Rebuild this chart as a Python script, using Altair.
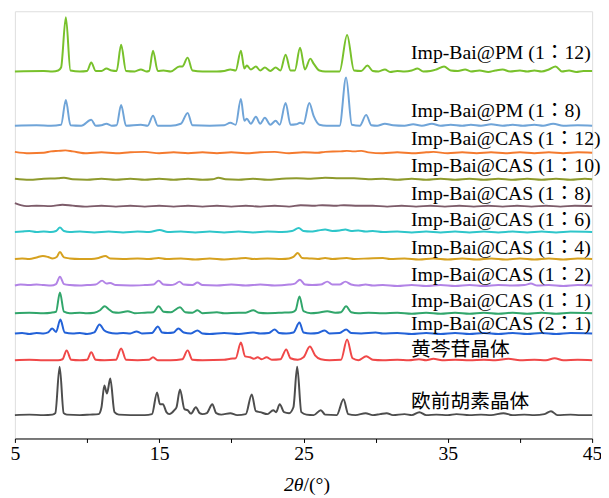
import altair as alt
import pandas as pd

# ---------------- data ----------------
SERIES = [
    "Imp-Bai@PM (1：12)", "Imp-Bai@PM (1：8)", "Imp-Bai@CAS (1：12)",
    "Imp-Bai@CAS (1：10)", "Imp-Bai@CAS (1：8)", "Imp-Bai@CAS (1：6)",
    "Imp-Bai@CAS (1：4)", "Imp-Bai@CAS (1：2)", "Imp-Bai@CAS (1：1)",
    "Imp-Bai@CAS (2：1)", "黄芩苷晶体", "欧前胡素晶体",
]
COLORS = ["#78C12B", "#6FA4D8", "#F47A2E", "#8E9A2C", "#7D5C6A", "#2EC6CA",
          "#D6A11F", "#B283E6", "#31A66B", "#2362D8", "#F04848", "#4D4D4D"]
# vertical stacking offsets (a.u.)
OFFSETS = [372, 317, 289.5, 262.7, 235.5, 209.3, 182, 155, 127, 106.5, 79.3, 23.7]
LABEL_X = 32.45
LABEL_Y = [385, 326, 297, 270, 242, 215, 187, 160, 133, 110, 84, 31]
TICKS = [5, 7.5, 10, 12.5, 15, 17.5, 20, 22.5, 25, 27.5, 30, 32.5, 35, 37.5, 40, 42.5, 45]

PM_1_12 = [(5.0,0),(7.0,0.5),(7.6,0),(8.0,1),(8.2,4),(8.53,55),(8.85,1),(9.5,0),(10.0,0.5),(10.29,9),
    (10.6,0.5),(11.0,0.5),(11.34,3),(11.7,1),(12.05,0.5),(12.36,27),(12.7,0.5),(13.3,0),(13.73,2),(14.1,0),
    (14.3,0.5),(14.57,21),(14.9,0.5),(15.3,1),(15.8,0),(16.4,5),(16.6,5),(16.97,14),(17.3,1),(18.0,0),
    (19.0,0),(19.5,0.5),(19.93,2),(20.3,1),(20.66,21),(20.9,3),(21.07,6),(21.35,2),(21.7,5),(22.0,1),
    (22.32,4),(22.7,0.5),(23.07,4),(23.4,1),(23.76,17),(24.1,1),(24.4,1),(24.76,24),(25.1,2),(25.47,13),
    (25.7,8),(26.1,1),(26.5,0),(27.5,0),(28.02,37),(28.5,1),(29.0,0.5),(29.43,6),(29.8,0.5),(30.2,0),
    (30.64,2),(31.0,-0.5),(31.5,0.5),(32.0,0),(32.5,1),(32.9,3),(33.3,0),(33.8,0.5),(34.2,2),(34.74,5),
    (35.2,1),(35.7,0.5),(36.2,2),(36.6,0),(37.2,1),(37.8,-0.5),(38.3,1),(38.8,2),(39.3,0),(40.0,1),
    (40.5,0),(41.0,1),(41.5,0),(42.0,2),(42.47,5),(42.9,0),(43.4,1),(43.9,-0.5),(44.4,0.5),(45.0,0.5)]

PM_1_8 = [(5.0,0),(6.5,0.5),(7.5,0),(8.2,1),(8.53,26),(8.85,0.5),(9.6,0),(10.29,6),(10.6,0),(11.0,0.5),
    (11.34,2),(11.7,0),(12.05,0.5),(12.36,21),(12.7,0),(13.73,1),(14.2,0),(14.57,10),(14.9,0),(15.8,0),
    (16.5,2),(16.97,13),(17.3,0.5),(18.5,0),(19.5,0.5),(19.93,3),(20.3,1),(20.66,27),(20.9,5),(21.07,7),
    (21.35,2),(21.7,9),(22.0,2),(22.32,8),(22.7,1),(23.07,5),(23.35,1),(23.76,23),(24.1,1),(24.5,1.5),
    (24.76,3),(25.0,2),(25.4,23),(25.7,10),(26.1,1),(26.6,0),(27.5,0),(27.95,49),(28.35,1),(28.9,0),
    (29.34,11),(29.7,0.5),(30.1,0),(30.64,2),(31.2,0.5),(32.0,0),(32.6,1.5),(33.2,0),(33.9,2),(34.5,0),
    (35.2,1),(36.0,0),(36.6,1),(37.3,0),(38.0,1.5),(38.8,0),(39.5,1),(40.2,0),(41.0,1),(41.6,0),
    (42.3,2),(43.0,0),(44.0,0.5),(45.0,0)]

CAS_1_12 = [(5.0,1),(6.0,-0.5),(7.0,0),(7.5,1.5),(8.0,2),(8.5,2.5),(9.0,1.5),(10.0,-0.5),(11.0,0.5),
    (12.0,-0.5),(13.0,0.5),(14.0,1),(15.0,-0.5),(16.0,0.5),(17.0,-0.5),(18.0,0.5),(19.0,-0.5),(20.0,0.5),
    (21.0,-0.5),(22.0,0.5),(23.0,1),(24.0,-0.5),(25.0,0.5),(26.0,0),(26.5,1),(27.5,1.5),(28.0,2),
    (28.5,1.5),(29.0,2),(29.5,0.5),(30.5,-0.5),(31.5,0.5),(32.5,-0.5),(33.5,0.5),(34.0,1),(35.0,-0.5),
    (36.0,0.5),(37.0,-0.5),(38.0,0.5),(39.0,-0.5),(40.0,0.5),(41.0,-0.5),(42.0,0.5),(43.0,-0.5),
    (44.0,0.5),(45.0,0)]

CAS_1_10 = [(5.0,0.5),(6.0,-0.5),(7.0,0.5),(8.0,1),(8.4,1.5),(9.0,0),(10.0,-0.5),(11.0,0.5),(12.0,-0.5),
    (13.0,0.5),(14.0,-0.5),(15.0,0.5),(16.0,-0.5),(17.0,0.5),(18.0,-0.5),(18.7,0),(19.1,1.5),(19.6,0),
    (20.5,-0.5),(21.5,0.5),(22.5,-0.5),(23.5,0.5),(24.5,1),(25.5,0.5),(26.5,1.5),(27.5,1),(28.5,1),
    (29.5,0),(30.5,0.5),(31.5,-0.5),(32.5,0.5),(33.5,-0.5),(34.5,0.5),(35.5,-0.5),(36.5,0.5),(37.5,-0.5),
    (38.5,0.5),(39.5,-0.5),(40.5,0.5),(41.5,-0.5),(42.5,0.5),(43.5,-0.5),(44.5,0.5),(45.0,0)]

CAS_1_8 = [(5.0,3),(5.4,1),(5.8,0),(6.5,0.5),(7.5,0),(8.3,1.5),(9.0,0.5),(10.0,-0.5),(11.0,0.5),
    (12.0,-0.5),(13.0,0.5),(14.0,-0.5),(15.0,0.5),(16.0,-0.5),(17.0,0.5),(18.0,-0.5),(19.0,0.5),
    (20.0,-0.5),(21.0,0.5),(22.0,-0.5),(23.0,0.5),(24.0,-0.5),(24.8,1),(25.8,0.5),(26.3,1),(27.3,0.5),
    (27.8,1),(28.8,0.5),(29.8,0.5),(30.8,-0.5),(31.8,0.5),(32.8,-0.5),(33.8,0.5),(34.8,-0.5),(35.8,0.5),
    (36.8,-0.5),(37.8,0.5),(38.8,-0.5),(39.8,0.5),(40.8,-0.5),(41.8,0.5),(42.8,-0.5),(43.8,0.5),(45.0,0)]

CAS_1_6 = [(5.0,0),(5.5,0.5),(6.0,1),(6.5,0),(7.0,0.5),(7.5,0),(7.85,1),(8.12,4.5),(8.4,1),(8.8,0),
    (9.5,0.5),(10.5,-0.5),(11.5,0.5),(12.5,-0.5),(13.5,0.5),(14.3,0),(15.03,2),(15.6,0),(16.5,0.5),
    (17.5,-0.5),(18.5,0.5),(19.5,-0.5),(20.5,0.5),(21.5,-0.5),(22.5,0.5),(23.5,0),(24.2,1),(24.67,4),
    (25.0,1),(25.5,0.5),(26.0,1.5),(26.5,2.5),(27.0,1),(27.5,1.5),(27.9,2.5),(28.3,1),(28.8,1.5),
    (29.3,0.5),(29.8,1),(30.5,0),(31.5,0.5),(32.5,-0.5),(33.5,0.5),(34.5,-0.5),(35.5,0.5),(36.5,-0.5),
    (37.5,0.5),(38.5,-0.5),(39.5,0.5),(40.5,-0.5),(41.5,0.5),(42.5,-0.5),(43.5,0.5),(45.0,0)]

CAS_1_4 = [(5.0,0),(5.5,0.5),(6.0,0),(6.5,1.5),(6.94,3),(7.3,2),(7.6,0.5),(7.9,2),(8.12,7),(8.4,1.5),
    (8.8,0.5),(9.5,0),(10.3,0),(10.8,1),(11.27,3),(11.6,0.5),(12.5,0),(13.5,0.5),(14.3,0),(14.96,1),
    (15.5,0),(16.5,0.5),(17.5,-0.5),(18.5,0.5),(19.5,-0.5),(20.5,0.5),(21.0,1),(21.5,0),(22.5,0.5),
    (23.5,0),(24.0,0.5),(24.3,2),(24.6,6),(24.9,1),(25.4,0.5),(26.0,0),(26.5,1),(27.0,0),(28.0,1),
    (28.5,0),(29.5,0.5),(30.5,1),(31.0,0),(32.0,0.5),(33.0,-0.5),(34.0,0.5),(35.0,-0.5),(36.0,0.5),
    (37.0,-0.5),(38.0,0.5),(39.0,-0.5),(40.0,0.5),(41.0,-0.5),(42.0,0.5),(43.0,-0.5),(44.0,0.5),(45.0,0)]

CAS_1_2 = [(5.0,0),(5.4,1),(6.0,0.5),(6.5,1),(7.0,0.5),(7.5,0),(7.85,1.5),(8.12,9),(8.4,1.5),(8.8,0.5),
    (9.5,0),(10.0,0.5),(10.6,1),(11.04,5),(11.35,2),(11.6,2.5),(12.0,0.5),(13.0,0),(14.0,0.5),(14.6,1),
    (14.96,5),(15.3,1),(15.8,0.5),(16.1,1.5),(16.4,4),(16.7,1),(17.3,0.5),(17.65,3),(18.0,0.5),(19.0,0),
    (20.0,1),(21.0,0),(22.0,1),(23.0,0),(24.0,1),(24.4,2),(24.75,6),(25.1,1),(25.6,0.5),(26.2,1),
    (26.65,4),(27.0,1),(27.5,1),(27.9,4),(28.3,1),(28.8,0),(29.3,1),(29.8,0),(30.5,0.5),(31.5,-0.5),
    (32.5,0.5),(33.5,-0.5),(34.5,0.5),(35.5,-0.5),(36.5,0.5),(37.5,-0.5),(38.5,0.5),(39.5,0),(40.3,0.5),
    (40.76,2),(41.2,0),(42.0,0.5),(43.0,-0.5),(44.0,0.5),(45.0,0)]

CAS_1_1 = [(5.0,0),(6.0,0.5),(7.0,0),(7.5,0.5),(7.85,1.5),(8.12,21),(8.4,1.5),(8.8,0),(9.5,0.5),
    (10.0,0),(10.5,0.5),(10.9,3),(11.22,7),(11.5,4),(11.8,1),(12.2,0.5),(12.82,2),(13.3,0),(14.0,0.5),
    (14.6,1),(14.96,7),(15.3,1.5),(15.8,1),(16.44,6),(16.8,1),(17.3,0.5),(17.65,3),(18.0,0),(19.0,1),
    (19.5,0),(20.5,0.5),(21.0,0.5),(21.52,3),(21.9,0.5),(22.5,0),(23.5,0.5),(24.2,1),(24.45,3),(24.72,17),
    (25.0,2),(25.5,0),(26.0,0.5),(26.65,2),(27.2,0.5),(27.6,1),(27.95,7),(28.3,1),(28.8,0),(29.5,0.5),
    (30.5,0),(31.5,0.5),(32.5,-0.5),(33.5,0.5),(34.5,-0.5),(35.5,0.5),(36.5,-0.5),(37.5,0.5),(38.5,-0.5),
    (39.5,0.5),(40.5,-0.5),(41.5,0.5),(42.5,-0.5),(43.5,0.5),(45.0,0)]

CAS_2_1 = [(5.0,0),(5.5,0.5),(6.0,-0.5),(6.5,0.5),(7.0,0),(7.3,1),(7.58,5),(7.85,1.5),(8.15,14),
    (8.45,1),(9.0,0),(9.5,0.5),(10.0,-0.5),(10.5,1),(10.86,9),(11.2,3),(11.5,1),(12.0,0),(12.5,0.5),
    (13.0,0),(13.43,2),(13.8,0),(14.5,0.5),(14.91,7),(15.2,1),(15.6,0.5),(16.0,1),(16.33,5),(16.7,1),
    (17.2,0),(17.65,3),(18.0,0),(18.5,-0.5),(19.5,0.5),(20.5,-0.5),(21.5,1),(22.0,0),(22.6,0.5),
    (23.0,4),(23.3,0.5),(23.8,0),(24.3,1),(24.72,11),(25.0,1),(25.5,0),(26.0,0.5),(26.47,3),(26.8,0),
    (27.5,0.5),(27.95,4),(28.3,0.5),(29.0,0),(30.0,1),(30.5,0),(31.5,0.5),(32.5,-0.5),(33.5,0.5),
    (34.5,-0.5),(35.5,0.5),(36.5,-0.5),(37.5,0.5),(38.5,-0.5),(39.5,0.5),(40.5,-0.5),(41.5,0.5),
    (42.5,-0.5),(43.5,0.5),(45.0,0)]

BAICALIN = [(5.0,0),(6.0,0.5),(7.0,0),(8.0,0),(8.3,1),(8.58,10),(8.9,0.5),(9.5,0),(10.0,0.5),(10.29,8),
    (10.6,0.5),(11.2,0),(12.0,0.5),(12.36,12),(12.7,0.5),(13.5,0),(14.3,0.5),(14.57,3),(14.9,0),(15.8,0),
    (16.6,1),(16.97,10),(17.3,0.5),(18.0,0),(19.5,0.5),(19.93,1.5),(20.3,2),(20.66,18),(20.95,4),(21.3,3),
    (21.55,1.5),(21.82,3),(22.1,1),(22.44,3),(22.8,0.5),(23.4,1),(23.8,11),(24.1,2),(24.6,0.5),(25.0,3),
    (25.44,14),(25.8,5),(26.2,1),(26.8,0),(27.6,0.5),(28.02,21),(28.4,2),(28.8,0),(29.35,4),(29.8,0.5),
    (30.5,0),(31.5,0.5),(32.3,0),(33.0,1),(33.5,0),(34.0,1.5),(34.6,0),(35.5,0.5),(36.5,0),(37.5,0.5),
    (38.3,0),(39.2,1.5),(40.0,0),(41.0,0.5),(41.8,0),(42.4,2),(43.0,0),(44.0,0.5),(45.0,0)]

IMPERATORIN = [(5.0,0),(6.0,0.5),(7.0,0),(7.6,0.5),(7.8,2),(8.1,49),(8.38,2),(8.6,0.5),(9.5,0),
    (10.2,0.5),(10.8,1),(11.0,8),(11.2,30),(11.38,22),(11.61,37),(11.9,3),(12.2,0.5),(13.0,0),(14.0,0),
    (14.5,1),(14.85,23),(15.05,11),(15.26,11),(15.5,3),(15.7,1),(16.05,5),(16.2,8),(16.44,26),(16.75,6),
    (16.97,5),(17.2,1.5),(17.54,8),(17.8,2),(18.0,1),(18.3,2),(18.68,11),(18.95,2),(19.3,0.5),(19.93,2),
    (20.4,0),(21.0,1),(21.41,21),(21.7,4),(22.0,3),(22.5,1),(22.9,5),(23.1,3),(23.35,11),(23.65,3),
    (24.0,2),(24.3,8),(24.56,49),(24.85,3),(25.2,0.5),(25.7,0),(26.2,5),(26.5,0.5),(27.3,0),(27.77,16),
    (28.1,1),(28.6,0),(29.3,2),(29.8,0),(30.3,1),(30.76,2),(31.2,0),(32.0,1),(32.5,0),(33.03,3),(33.5,0),
    (34.2,0.5),(35.0,0),(35.6,1),(36.5,0),(37.3,0.5),(38.0,0),(38.85,2),(39.5,0),(40.3,0.5),(41.0,0),
    (41.7,1),(42.15,4),(42.6,0),(43.5,0.5),(44.2,0),(45.0,0)]

PATTERNS = [PM_1_12, PM_1_8, CAS_1_12, CAS_1_10, CAS_1_8, CAS_1_6, CAS_1_4, CAS_1_2,
            CAS_1_1, CAS_2_1, BAICALIN, IMPERATORIN]

# ---------------- tables ----------------
rows = []
for name, off, pts in zip(SERIES, OFFSETS, PATTERNS):
    for x, v in pts:
        rows.append({"series": name, "two_theta": x, "intensity": off + v})
df = pd.DataFrame(rows)
labels = pd.DataFrame({"series": SERIES, "x": [LABEL_X] * len(SERIES), "y": LABEL_Y})

FONT = "Liberation Serif, Times New Roman, Noto Sans CJK JP"

xscale = alt.Scale(domain=[5, 45], nice=False, zero=False)
yscale = alt.Scale(domain=[0, 433], nice=False, zero=False)

lines = alt.Chart(df).mark_line(strokeWidth=2, interpolate="monotone").encode(
    x=alt.X("two_theta:Q", scale=xscale,
            axis=alt.Axis(values=TICKS, title=None,
                          labelExpr="datum.value % 10 == 5 ? datum.label : ''",
                          labelFont=FONT, labelFontSize=20, labelColor="black",
                          domainColor="black", tickColor="black", tickSize=4,
                          labelPadding=1, grid=False, labelFlush=False)),
    y=alt.Y("intensity:Q", scale=yscale, axis=None),
    color=alt.Color("series:N", scale=alt.Scale(domain=SERIES, range=COLORS), legend=None),
)

texts = alt.Chart(labels).mark_text(align="left", baseline="alphabetic", font=FONT,
                                    fontSize=20, color="black").encode(
    x=alt.X("x:Q", scale=xscale), y=alt.Y("y:Q", scale=yscale), text="series:N")

title_df = pd.DataFrame({"x": [25]})
t1 = alt.Chart(title_df).mark_text(text="2θ", align="right", baseline="alphabetic", font=FONT,
                                   fontSize=20, fontStyle="italic", color="black").encode(
    x=alt.X("x:Q", scale=xscale), y=alt.value(486))
t2 = alt.Chart(title_df).mark_text(text="/(°)", align="left", baseline="alphabetic", font=FONT,
                                   fontSize=20, color="black").encode(
    x=alt.X("x:Q", scale=xscale), y=alt.value(486))

chart = alt.layer(lines, texts, t1, t2).properties(
    width=585, height=433,
    padding={"left": 7, "top": 0, "right": 9, "bottom": 57},
    autosize=alt.AutoSizeParams(type="none"),
).configure_view(stroke=None).configure(background="white")

chart.save("out.html", embed_options={"renderer": "svg", "actions": False})
